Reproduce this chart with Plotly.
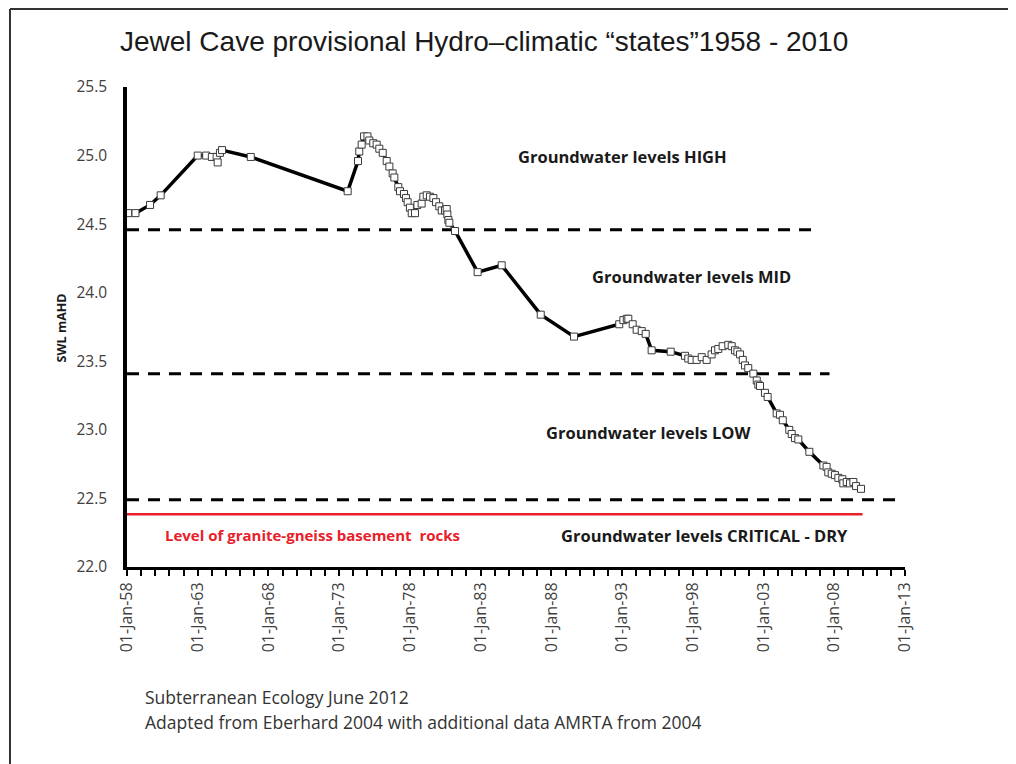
import plotly.graph_objects as go
import pandas as pd

# ---- data (decimal year, standing water level mAHD) ----
year_dec = [1958.09, 1958.6, 1959.63, 1960.38, 1963.0, 1963.6, 1964.0, 1964.34, 1964.41,
            1964.57, 1964.72, 1966.75, 1973.6, 1974.33, 1974.42, 1974.59, 1974.76, 1975.0,
            1975.13, 1975.41, 1975.65, 1975.84, 1976.08, 1976.36, 1976.55, 1976.78, 1976.9,
            1977.18, 1977.3, 1977.58, 1977.72, 1977.84, 1978.0, 1978.13, 1978.36, 1978.53,
            1978.83, 1978.95, 1979.19, 1979.42, 1979.66, 1979.85, 1980.08, 1980.25, 1980.48,
            1980.6, 1980.65, 1980.72, 1980.79, 1981.19, 1982.79, 1984.49, 1987.25, 1989.6,
            1992.8, 1993.09, 1993.33, 1993.44, 1993.75, 1994.03, 1994.39, 1994.67, 1995.09,
            1996.44, 1997.45, 1997.68, 1997.92, 1998.27, 1998.63, 1998.98, 1999.33, 1999.57,
            1999.8, 2000.11, 2000.51, 2000.75, 2000.98, 2001.15, 2001.34, 2001.53, 2001.69,
            2001.92, 2002.28, 2002.52, 2002.63, 2002.75, 2003.1, 2003.29, 2003.93, 2004.16,
            2004.36, 2004.82, 2004.99, 2005.22, 2005.46, 2006.24, 2007.23, 2007.46, 2007.58,
            2007.82, 2008.05, 2008.29, 2008.57, 2008.64, 2008.88, 2009.11, 2009.35, 2009.54,
            2009.89]
swl = [24.58, 24.58, 24.64, 24.71, 25.00, 25.00, 24.99, 24.99, 24.95,
       25.02, 25.04, 24.99, 24.74, 24.96, 25.03, 25.08, 25.14, 25.14,
       25.11, 25.09, 25.08, 25.05, 25.02, 24.96, 24.92, 24.87, 24.84,
       24.77, 24.74, 24.72, 24.69, 24.66, 24.62, 24.58, 24.58, 24.64,
       24.65, 24.70, 24.71, 24.70, 24.69, 24.66, 24.63, 24.60, 24.60,
       24.61, 24.57, 24.53, 24.51, 24.45, 24.15, 24.20, 23.84, 23.68,
       23.77, 23.80, 23.81, 23.81, 23.77, 23.73, 23.72, 23.70, 23.58,
       23.57, 23.54, 23.52, 23.51, 23.51, 23.53, 23.51, 23.55, 23.58,
       23.59, 23.61, 23.62, 23.61, 23.58, 23.57, 23.55, 23.51, 23.47,
       23.45, 23.41, 23.36, 23.33, 23.32, 23.27, 23.24, 23.12, 23.11,
       23.07, 23.00, 22.97, 22.94, 22.93, 22.84, 22.74, 22.73, 22.69,
       22.68, 22.67, 22.65, 22.64, 22.61, 22.62, 22.61, 22.62, 22.59,
       22.57]

# state thresholds (mAHD) and basement level
threshold_levels = [24.46, 23.41, 22.49]
threshold_ends = ["2006-06-01", "2007-09-01", "2012-07-01"]
basement_level = 22.385
basement_end = "2010-01-01"

state_labels = ["Groundwater levels HIGH", "Groundwater levels MID",
                "Groundwater levels LOW", "Groundwater levels CRITICAL - DRY"]
state_label_x = [1993.0, 1997.94, 1994.83, 1998.8]
state_label_y = [24.99, 24.115, 22.98, 22.23]

y_ticks = [22.0, 22.5, 23.0, 23.5, 24.0, 24.5, 25.0, 25.5]


def dec_to_date(y):
    yr = int(y)
    start = pd.Timestamp(year=yr, month=1, day=1)
    end = pd.Timestamp(year=yr + 1, month=1, day=1)
    return start + (end - start) * (y - yr)


dates = [dec_to_date(v) for v in year_dec]

fig = go.Figure()
fig.add_trace(go.Scatter(
    x=dates, y=swl, mode="lines+markers",
    line=dict(color="black", width=3.5),
    marker=dict(symbol="square", size=7, color="white",
                line=dict(color="#3a3a3a", width=1)),
    showlegend=False, hoverinfo="x+y"))

shapes = []
for lvl, xe in zip(threshold_levels, threshold_ends):
    shapes.append(dict(type="line", xref="x", yref="y", x0="1958-01-01", x1=xe,
                       y0=lvl, y1=lvl, line=dict(color="black", width=3, dash="12px,9px"),
                       layer="below"))
shapes.append(dict(type="line", xref="x", yref="y", x0="1958-01-01", x1=basement_end,
                   y0=basement_level, y1=basement_level,
                   line=dict(color="#e8202a", width=2.5), layer="below"))
# figure frame (top and left edges visible)
shapes.append(dict(type="line", xref="paper", yref="paper", x0=-0.1504, x1=1.15,
                   y0=1.1625, y1=1.1625, line=dict(color="#333333", width=2)))
shapes.append(dict(type="line", xref="paper", yref="paper", x0=-0.1504, x1=-0.1504,
                   y0=-0.42, y1=1.1625, line=dict(color="#333333", width=2)))

FAM = "'Open Sans', Lato, sans-serif"
lab_font = dict(family=FAM, size=16.5, color="#1a1a1a")
annotations = []
for t, xx, yy in zip(state_labels, state_label_x, state_label_y):
    annotations.append(dict(text="<b>" + t + "</b>", x=dec_to_date(xx), y=yy, xref="x", yref="y",
                            showarrow=False, font=lab_font, xanchor="center", yanchor="middle"))
annotations.append(dict(text="<b>Level of granite-gneiss basement  rocks</b>",
                        x=dec_to_date(1971.08), y=22.23, xref="x", yref="y",
                        showarrow=False, font=dict(family=FAM, size=15, color="#e8202a"),
                        xanchor="center", yanchor="middle"))
annotations.append(dict(text="<b>SWL mAHD</b>", x=-0.083, y=0.498, xref="paper", yref="paper",
                        textangle=-90, showarrow=False, xanchor="center", yanchor="middle",
                        font=dict(family=FAM, size=12.5, color="#1a1a1a")))
annotations.append(dict(text="Subterranean Ecology June 2012", x=0.0206, y=-0.271,
                        xref="paper", yref="paper", xanchor="left", yanchor="middle",
                        showarrow=False, font=dict(family=FAM, size=17.5, color="#333333")))
annotations.append(dict(text="Adapted from Eberhard 2004 with additional data AMRTA from 2004",
                        x=0.0206, y=-0.323, xref="paper", yref="paper", xanchor="left",
                        yanchor="middle", showarrow=False,
                        font=dict(family=FAM, size=17.5, color="#333333")))
annotations.append(dict(text="Jewel Cave provisional Hydro–climatic “states”1958 - 2010",
                        x=-0.0110, y=1.094, xref="paper", yref="paper", xanchor="left",
                        yanchor="middle", showarrow=False,
                        font=dict(family="'Liberation Sans Narrow', 'Arial Narrow', 'Liberation Sans', sans-serif",
                                  size=28, color="#1a1a1a")))

fig.update_layout(
    width=1016, height=764,
    margin=dict(l=119, r=119, t=79, b=205),
    paper_bgcolor="white", plot_bgcolor="white",
    shapes=shapes, annotations=annotations,
    xaxis=dict(type="date", range=["1958-01-01", "2013-01-01"],
               tick0="1958-01-01", dtick="M60", tickformat="%d-%b-%y",
               tickangle=-90, ticks="outside", ticklen=6, tickwidth=1.5, tickcolor="black",
               minor=dict(dtick="M12", ticks="outside", ticklen=6, tickwidth=1.5, tickcolor="black"),
               showline=True, linecolor="black", linewidth=3, showgrid=False, zeroline=False,
               tickfont=dict(family=FAM, size=16, color="#404040")),
    yaxis=dict(range=[22.0, 25.5], tickvals=y_ticks, ticktext=[f"{v:.1f}" for v in y_ticks],
               showline=True, linecolor="black", linewidth=3.5, showgrid=False, zeroline=False,
               ticks="", ticklabelstandoff=13,
               tickfont=dict(family=FAM, size=15.5, color="#404040")),
)

fig.write_html("out.html")
